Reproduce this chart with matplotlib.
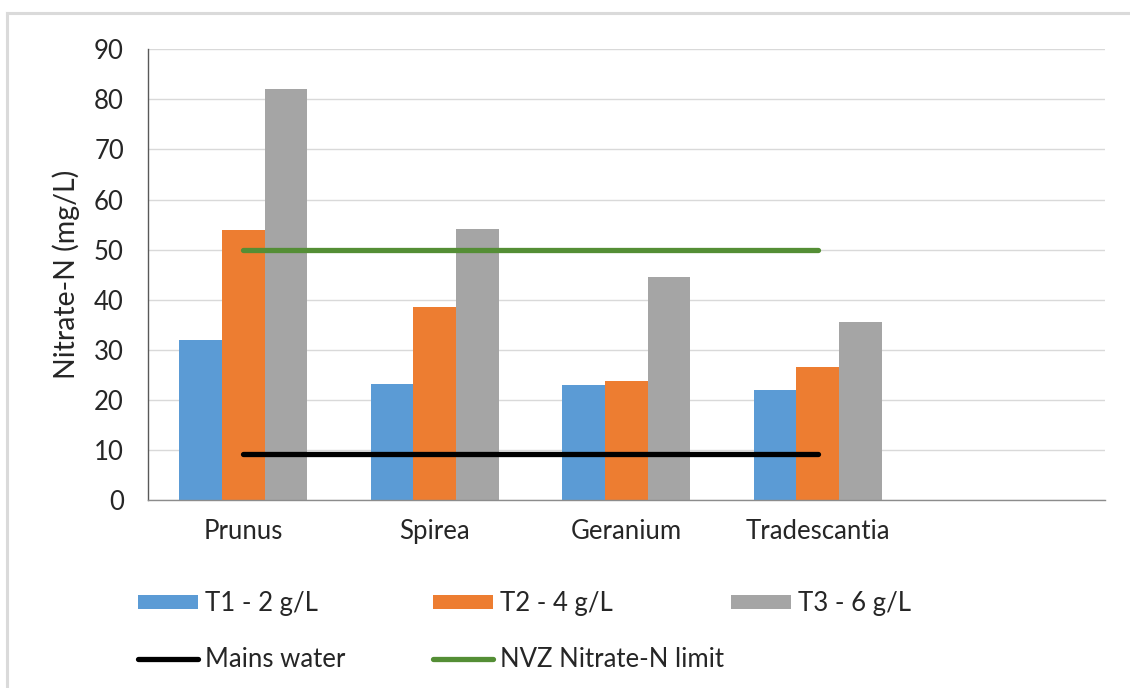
import matplotlib
matplotlib.use("Agg")
import matplotlib.pyplot as plt
from matplotlib.lines import Line2D
import numpy as np

plt.rcParams["font.family"] = ["Lato", "DejaVu Sans"]

# Nitrate-N in leachate per species and fertiliser rate (mg/L)
species = ["Prunus", "Spirea", "Geranium", "Tradescantia"]
t1_2gl = [32.0, 23.2, 22.9, 22.0]
t2_4gl = [54.0, 38.6, 23.8, 26.6]
t3_6gl = [82.1, 54.2, 44.6, 35.6]
mains_water = [9.1, 9.1, 9.1, 9.1]
nvz_limit = [50.0, 50.0, 50.0, 50.0]

series_labels = ["T1 - 2 g/L", "T2 - 4 g/L", "T3 - 6 g/L"]
line_labels = ["Mains water", "NVZ Nitrate-N limit"]
y_ticks = [0, 10, 20, 30, 40, 50, 60, 70, 80, 90]

W, H = 1130, 688
fig = plt.figure(figsize=(W / 100, H / 100), dpi=100)
ax = fig.add_axes([147.5 / W, 1 - 500 / H, (1105 - 147.5) / W, (500 - 49.3) / H])

blue, orange, grey = "#5B9BD5", "#ED7D31", "#A5A5A5"
green = "#548E35"

x = np.arange(len(species))
bw = 1 / 4.5  # three bars per group, 150% gap
b1 = ax.bar(x - bw, t1_2gl, bw, color=blue, zorder=2)
b2 = ax.bar(x, t2_4gl, bw, color=orange, zorder=2)
b3 = ax.bar(x + bw, t3_6gl, bw, color=grey, zorder=2)
l1, = ax.plot(x, mains_water, color="black", lw=3.8, solid_capstyle="round", zorder=3)
l2, = ax.plot(x, nvz_limit, color=green, lw=3.8, solid_capstyle="round", zorder=3)

ax.set_xlim(-0.5, 4.5)
ax.set_ylim(0, 90)
ax.set_yticks(y_ticks)
ax.set_xticks(x)
ax.set_xticklabels(species)
ax.grid(axis="y", color="#D9D9D9", lw=1.0, zorder=0)
ax.set_axisbelow(True)

for side in ("top", "right"):
    ax.spines[side].set_visible(False)
ax.spines["left"].set_color("#595959")
ax.spines["left"].set_linewidth(1.0)
ax.spines["bottom"].set_color("#8C8C8C")
ax.spines["bottom"].set_linewidth(1.0)

ax.tick_params(axis="y", length=0, pad=17, labelsize=18.5, labelcolor="#262626")
ax.tick_params(axis="x", length=0, pad=14, labelsize=18.5, labelcolor="#262626")

ax.set_ylabel("Nitrate-N (mg/L)", fontsize=20.5, color="#262626")
ax.yaxis.set_label_coords((66 - 147.5) / (1105 - 147.5), 0.5)
ax.yaxis.label.set_verticalalignment("center")

# legend laid out as a three-column grid
leg_kw = dict(frameon=False, fontsize=18.5, handlelength=2.35, handleheight=0.5,
              handletextpad=0.25, borderpad=0, borderaxespad=0, labelspacing=1.2,
              loc="upper left", labelcolor="#262626")
cols = [([b1, l1], [series_labels[0], line_labels[0]], 138),
        ([b2, l2], [series_labels[1], line_labels[1]], 433),
        ([b3], [series_labels[2]], 731)]
for handles, labels, xpx in cols:
    fig.legend(handles, labels, bbox_to_anchor=(xpx / W, 1 - 591 / H), **leg_kw)

# light outer frame
fig.add_artist(Line2D([7 / W, 7 / W], [0, 1 - 13 / H], color="#DADADA", lw=2.2))
fig.add_artist(Line2D([7 / W, 1], [1 - 13 / H, 1 - 13 / H], color="#DADADA", lw=2.2))

fig.savefig("out.png", dpi=100)
